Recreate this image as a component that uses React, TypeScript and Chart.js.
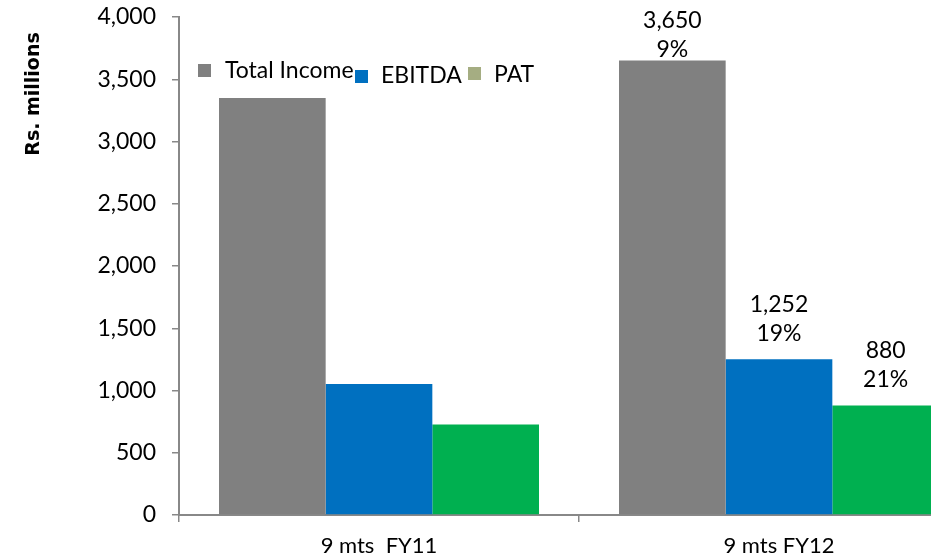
import { useEffect, useRef } from "react";
import { Chart, registerables } from "chart.js";

Chart.register(...registerables);

// Period categories along the x axis
const categories = ["9 mts  FY11", "9 mts FY12"];

// Series (Rs. millions)
const seriesNames = ["Total Income", "EBITDA", "PAT"];
const totalIncome = [3350, 3650];
const ebitda = [1052, 1252];
const pat = [727, 880];

// Year-on-year growth printed under the FY12 values
const totalIncomeGrowth = [null, "9%"];
const ebitdaGrowth = [null, "19%"];
const patGrowth = [null, "21%"];

// Value axis ticks
const yTicks = [0, 500, 1000, 1500, 2000, 2500, 3000, 3500, 4000];

const barColors = ["#808080", "#0070C0", "#00B050"];
const legendColors = ["#808080", "#0070C0", "#A5AD82"];

const FONT = "Lato, 'DejaVu Sans', sans-serif";
const fmt = (v: number) => v.toLocaleString("en-US");

// Hand-placed legend entries inside the plot area
const legendLayout = [
  { boxX: 198, boxY: 64, textX: 225, textY: 71 },
  { boxX: 355, boxY: 70, textX: 381, textY: 76 },
  { boxX: 468, boxY: 67, textX: 494, textY: 75 },
];

const valueLabelPlugin = {
  id: "valueLabels",
  afterDatasetsDraw(chart: any) {
    const ctx = chart.ctx;
    const growth = [totalIncomeGrowth, ebitdaGrowth, patGrowth];
    ctx.save();
    ctx.fillStyle = "#000";
    ctx.font = `23px ${FONT}`;
    ctx.textAlign = "center";
    ctx.textBaseline = "middle";
    chart.data.datasets.forEach((ds: any, di: number) => {
      const meta = chart.getDatasetMeta(di);
      meta.data.forEach((bar: any, i: number) => {
        const g = growth[di][i];
        if (!g) return;
        let lower = bar.y - 26;
        const minLower = 21 + 29;
        if (lower < minLower) lower = minLower;
        ctx.fillText(fmt(ds.data[i]), bar.x, lower - 29);
        ctx.fillText(g, bar.x, lower);
      });
    });
    ctx.restore();
  },
};

const legendPlugin = {
  id: "insideLegend",
  afterDraw(chart: any) {
    const ctx = chart.ctx;
    ctx.save();
    ctx.font = `23px ${FONT}`;
    ctx.textAlign = "left";
    ctx.textBaseline = "middle";
    seriesNames.forEach((name, i) => {
      const l = legendLayout[i];
      ctx.fillStyle = legendColors[i];
      ctx.fillRect(l.boxX, l.boxY, 13, 13);
      ctx.fillStyle = "#000";
      ctx.fillText(name, l.textX, l.textY);
    });
    ctx.restore();
  },
};

const axisTitlePlugin = {
  id: "axisTitle",
  afterDraw(chart: any) {
    const ctx = chart.ctx;
    ctx.save();
    ctx.translate(34, 94);
    ctx.rotate(-Math.PI / 2);
    ctx.font = "bold 19px 'DejaVu Sans', sans-serif";
    ctx.fillStyle = "#000";
    ctx.textAlign = "center";
    ctx.textBaseline = "middle";
    ctx.fillText("Rs. millions", 0, 0);
    ctx.restore();
  },
};

export default function App() {
  const canvasRef = useRef<HTMLCanvasElement | null>(null);

  useEffect(() => {
    const canvas = canvasRef.current;
    if (!canvas) return;
    const chart = new Chart(canvas, {
      type: "bar",
      data: {
        labels: categories,
        datasets: [totalIncome, ebitda, pat].map((values, i) => ({
          label: seriesNames[i],
          data: values,
          backgroundColor: barColors[i],
          borderWidth: 0,
          categoryPercentage: 0.8,
          barPercentage: 1.0,
        })),
      },
      options: {
        responsive: false,
        animation: false,
        devicePixelRatio: 1,
        layout: { padding: { top: 17, right: 11, left: 0, bottom: 0 } },
        plugins: {
          legend: { display: false },
          tooltip: { enabled: false },
        },
        scales: {
          x: {
            grid: {
              offset: true,
              drawOnChartArea: false,
              drawTicks: true,
              tickLength: 7,
              color: "#888888",
              lineWidth: 1.5,
            },
            border: { color: "#888888", width: 2 },
            ticks: {
              color: "#000",
              font: { family: FONT, size: 22 },
              padding: 11,
            },
            afterFit(scale: any) {
              scale.height = 42;
              scale.paddingLeft = 0;
              scale.paddingRight = 0;
            },
          },
          y: {
            min: 0,
            max: 4000,
            afterBuildTicks(scale: any) {
              scale.ticks = yTicks.map((v) => ({ value: v }));
            },
            grid: {
              drawOnChartArea: false,
              drawTicks: true,
              tickLength: 7,
              color: "#888888",
              lineWidth: 1.5,
            },
            border: { color: "#888888", width: 2 },
            ticks: {
              color: "#000",
              font: { family: FONT, size: 23 },
              padding: 16,
              callback: (v: any) => fmt(Number(v)),
            },
            afterFit(scale: any) {
              scale.width = 179;
              scale.paddingTop = 0;
              scale.paddingBottom = 0;
            },
          },
        },
      },
      plugins: [valueLabelPlugin, legendPlugin, axisTitlePlugin],
    });
    return () => chart.destroy();
  }, []);

  return (
    <div
      style={{
        position: "fixed",
        left: 0,
        top: 0,
        width: 931,
        height: 557,
        overflow: "hidden",
        background: "#fff",
      }}
    >
      <canvas ref={canvasRef} width={990} height={557} style={{ display: "block" }} />
    </div>
  );
}
